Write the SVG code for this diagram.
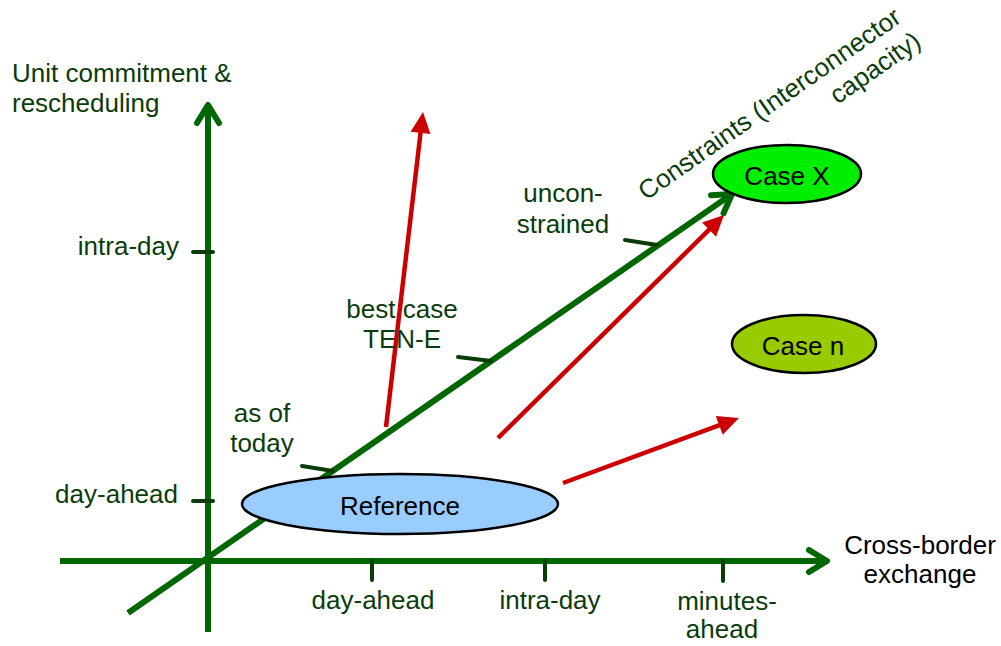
<svg xmlns="http://www.w3.org/2000/svg" width="1001" height="646" viewBox="0 0 1001 646">
<style>
.axis{stroke:#006600;stroke-width:6;fill:none}
.tick{stroke:#0a3c0a;stroke-width:4;stroke-linecap:round}
.red{stroke:#cc0000;stroke-width:4.5;fill:none}
.lbl{font-family:"Liberation Sans",Arial,Helvetica,sans-serif;font-size:26px;fill:#0a3c0a}
.blk{font-family:"Liberation Sans",Arial,Helvetica,sans-serif;font-size:26px;fill:#000}
.mid{text-anchor:middle}
.end{text-anchor:end}
.node{stroke:#000;stroke-width:2.5}
</style>
<defs>
<marker id="chev" markerUnits="userSpaceOnUse" viewBox="-25 -16 30 32" markerWidth="30" markerHeight="32" refX="-2" refY="0" orient="auto">
<path d="M-18,-11 L0,0 L-18,11" fill="none" stroke="#006600" stroke-width="6" stroke-linecap="round" stroke-linejoin="round"/>
</marker>
<marker id="tri" markerUnits="userSpaceOnUse" viewBox="-25 -12 30 24" markerWidth="30" markerHeight="24" refX="-12" refY="0" orient="auto">
<path d="M-21,-10 L0,0 L-21,10 Z" fill="#cc0000"/>
</marker>
</defs>
<g id="connectors">
<line class="axis" x1="208" y1="632" x2="208" y2="107" marker-end="url(#chev)"/>
<line class="axis" x1="60" y1="561" x2="825" y2="561" marker-end="url(#chev)"/>
<line class="axis" x1="128" y1="613" x2="730.4" y2="195.1" marker-end="url(#chev)"/>
<line class="tick" x1="193" y1="252" x2="213" y2="252"/>
<line class="tick" x1="193" y1="501" x2="213" y2="501"/>
<line class="tick" x1="372" y1="561" x2="372" y2="580"/>
<line class="tick" x1="545" y1="561" x2="545" y2="580"/>
<line class="tick" x1="723" y1="561" x2="723" y2="581"/>
<line class="tick" x1="302" y1="466" x2="333" y2="471"/>
<line class="tick" x1="458" y1="357" x2="491" y2="361"/>
<line class="tick" x1="625" y1="240" x2="657" y2="245"/>
<line class="red" x1="386" y1="427" x2="421.6" y2="123.9" marker-end="url(#tri)"/>
<line class="red" x1="498" y1="438" x2="715.5" y2="223.4" marker-end="url(#tri)"/>
<line class="red" x1="563" y1="483" x2="727.7" y2="422.2" marker-end="url(#tri)"/>
</g>
<g id="reference">
<ellipse class="node" cx="400" cy="504" rx="158" ry="30" fill="#99ccff"/>
<text class="blk mid" x="400" y="515">Reference</text>
</g>
<g id="case-x">
<ellipse class="node" cx="787" cy="174" rx="74" ry="29" fill="#00ee00"/>
<text class="blk mid" x="787" y="185">Case X</text>
</g>
<g id="case-n">
<ellipse class="node" cx="804" cy="344" rx="72" ry="29" fill="#99cc00"/>
<text class="blk mid" x="803" y="355">Case n</text>
</g>
<g id="labels">
<text class="lbl" x="12" y="82">Unit commitment &amp;</text>
<text class="lbl" x="12" y="112">rescheduling</text>
<text class="lbl end" x="179" y="255">intra-day</text>
<text class="lbl end" x="178" y="503">day-ahead</text>
<text class="lbl mid" x="373" y="609">day-ahead</text>
<text class="lbl mid" x="550" y="609">intra-day</text>
<text class="lbl mid" x="727" y="610">minutes-</text>
<text class="lbl mid" x="722" y="638">ahead</text>
<text class="blk mid" x="920" y="554">Cross-border</text>
<text class="blk mid" x="920" y="583">exchange</text>
<text class="lbl mid" x="563" y="202">uncon-</text>
<text class="lbl mid" x="563" y="233">strained</text>
<text class="lbl mid" x="402" y="318">best case</text>
<text class="lbl mid" x="402" y="348">TEN-E</text>
<text class="lbl mid" x="262" y="422">as of</text>
<text class="lbl mid" x="262" y="452">today</text>
<g transform="translate(646,201) rotate(-35)">
<text class="lbl" x="0" y="0">Constraints (Interconnector</text>
<text class="lbl" x="212" y="31">capacity)</text>
</g>
</g>
</svg>
